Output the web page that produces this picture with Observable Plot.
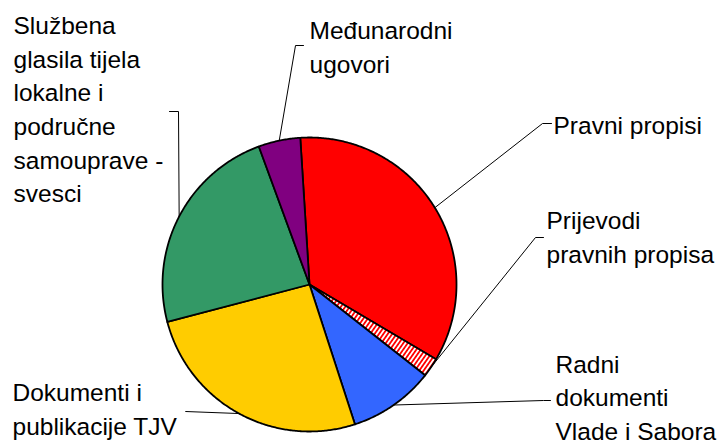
<!DOCTYPE html>
<html><head><meta charset="utf-8">
<script src="https://cdn.jsdelivr.net/npm/d3@7"></script>
<script src="https://cdn.jsdelivr.net/npm/@observablehq/plot@0.6"></script>
<style>html,body{margin:0;padding:0;background:#fff} svg{display:block}</style>
</head><body><div id="chart"></div>
<script>
// ---- data ----
const categories = [
  "Pravni propisi",
  "Prijevodi pravnih propisa",
  "Radni dokumenti Vlade i Sabora",
  "Dokumenti i publikacije TJV",
  "Službena glasila tijela lokalne i područne samouprave - svesci",
  "Međunarodni ugovori"
];
const values = [34.5, 2.1, 9.4, 25.9, 23.5, 4.6];
const labels = [
  "Pravni propisi",
  "Prijevodi\npravnih propisa",
  "Radni\ndokumenti\nVlade i Sabora",
  "Dokumenti i\npublikacije TJV",
  "Službena\nglasila tijela\nlokalne i\npodručne\nsamouprave -\nsvesci",
  "Međunarodni\nugovori"
];
const colors = ["#ff0000", "url(#hatch)", "#3366ff", "#ffcc00", "#339966", "#800080"];

// ---- layout (pixels) ----
const W = 724, H = 445, cx = 309, cy = 284, R = 147;
const startDeg = -3.6;
const labelLayout = [
  {tx: 553, ty: 123, elbow: [542, 123], end: [551, 123]},
  {tx: 546, ty: 235, elbow: [535, 237], end: [543, 237]},
  {tx: 555, ty: 395, elbow: [543, 400], end: [550, 400]},
  {tx: 12,  ty: 407, elbow: [185, 411], end: [185, 411]},
  {tx: 13,  ty: 107, elbow: [178, 111], end: [169, 111]},
  {tx: 309, ty: 45,  elbow: [295, 45],  end: [303, 45]}
];

const a0 = startDeg * Math.PI / 180;
const arcs = d3.pie().sort(null).startAngle(a0).endAngle(a0 + 2 * Math.PI)(values);

const slicePts = [];
const leaderPts = [];
const labelRows = [];
arcs.forEach((a, i) => {
  const name = categories[i];
  slicePts.push({name, x: cx, y: cy});
  const n = Math.max(2, Math.ceil((a.endAngle - a.startAngle) / (Math.PI / 360)));
  for (let k = 0; k <= n; k++) {
    const t = a.startAngle + (a.endAngle - a.startAngle) * k / n;
    slicePts.push({name, x: cx + R * Math.sin(t), y: cy - R * Math.cos(t)});
  }
  slicePts.push({name, x: cx, y: cy});
  const mid = (a.startAngle + a.endAngle) / 2;
  const L = labelLayout[i];
  leaderPts.push({name, x: cx + R * Math.sin(mid), y: cy - R * Math.cos(mid)});
  leaderPts.push({name, x: L.elbow[0], y: L.elbow[1]});
  leaderPts.push({name, x: L.end[0], y: L.end[1]});
  labelRows.push({name, label: labels[i], x: L.tx, y: L.ty});
});

const svg = Plot.plot({
  width: W, height: H,
  margin: 0,
  x: {domain: [0, W], range: [0, W], axis: null},
  y: {domain: [0, H], range: [0, H], axis: null},
  color: {domain: categories, range: colors},
  style: {fontFamily: "'Liberation Sans', Arial, sans-serif", background: "#fff"},
  marks: [
    Plot.line(slicePts, {x: "x", y: "y", z: "name", fill: "name", stroke: "black", strokeWidth: 1.8, strokeLinejoin: "round"}),
    Plot.line(leaderPts, {x: "x", y: "y", z: "name", stroke: "black", strokeWidth: 1}),
    Plot.text(labelRows, {x: "x", y: "y", text: "label", textAnchor: "start", lineAnchor: "middle", lineHeight: 1.37, fontSize: 24.5, fill: "black"})
  ]
});
svg.insertAdjacentHTML("afterbegin",
  '<defs><pattern id="hatch" patternUnits="userSpaceOnUse" width="3.6" height="3.6" patternTransform="rotate(35)">' +
  '<rect width="3.6" height="3.6" fill="#fff"/><rect width="1.8" height="3.6" fill="#ff0000"/></pattern></defs>');
document.getElementById("chart").appendChild(svg);
</script>
</body></html>
